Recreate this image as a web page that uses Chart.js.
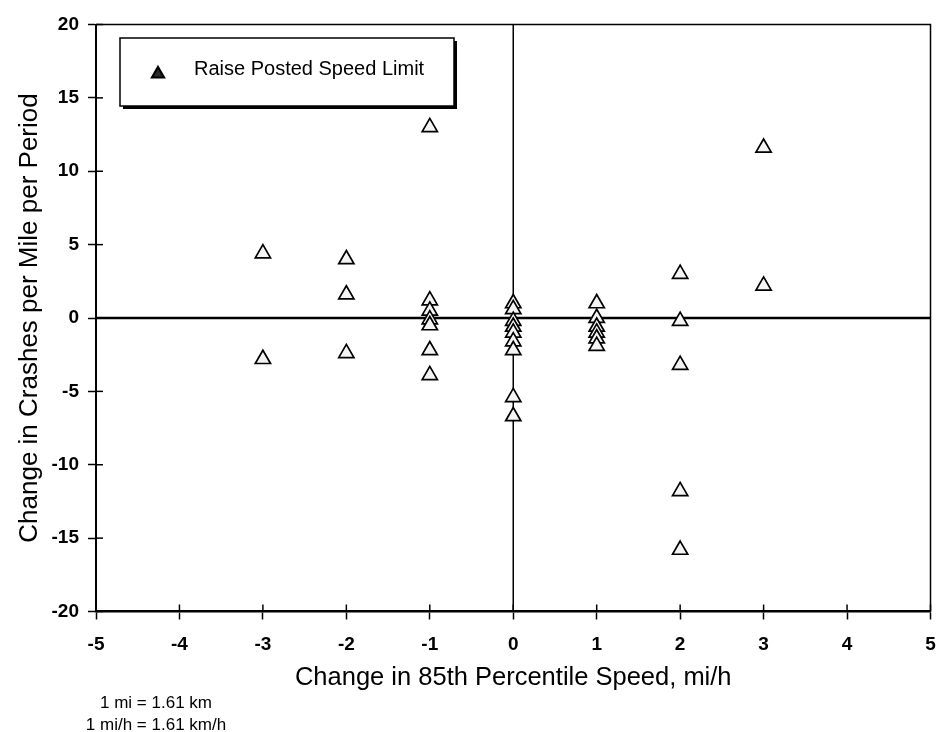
<!DOCTYPE html>
<html>
<head>
<meta charset="utf-8">
<script src="https://cdn.jsdelivr.net/npm/chart.js@4/dist/chart.umd.min.js"></script>
<style>
  html, body { margin: 0; padding: 0; background: #fff; }
  #wrap { width: 937px; height: 732px; }
</style>
</head>
<body>
<div id="wrap"><canvas id="c" width="937" height="732"></canvas></div>
<script>
// ---- Data ----
const seriesLabel = "Raise Posted Speed Limit";
const speedChange = [
  -3, -3,
  -2, -2, -2,
  -1, -1, -1, -1, -1, -1, -1,
   0,  0,  0,  0,  0,  0,  0,  0,  0,
   1,  1,  1,  1,  1,  1,
   2,  2,  2,  2,  2,
   3,  3
];
const crashChange = [
  4.4, -2.8,
  4.0, 1.6, -2.4,
  13.0, 1.2, 0.5, -0.1, -0.5, -2.2, -3.9,
  1.0, 0.6, -0.2, -0.6, -1.0, -1.6, -2.2, -5.4, -6.7,
  1.0, 0.0, -0.6, -1.0, -1.4, -1.9,
  3.0, -0.2, -3.2, -11.8, -15.8,
  11.6, 2.2
];
const xTitle = "Change in 85th Percentile Speed, mi/h";
const yTitle = "Change in Crashes per Mile per Period";
const notes = ["1 mi = 1.61 km", "1 mi/h = 1.61 km/h"];
const xRange = [-5, 5];
const yRange = [-20, 20];

const points = speedChange.map((x, i) => ({ x: x, y: crashChange[i] }));
const FONT = "'Liberation Sans', Arial, sans-serif";

const framePlugin = {
  id: 'frame',
  beforeDatasetsDraw(chart) {
    const { ctx, chartArea: a, scales: { x, y } } = chart;
    ctx.save();
    ctx.strokeStyle = '#000';
    ctx.lineWidth = 2.5;
    const y0 = y.getPixelForValue(0);
    ctx.beginPath(); ctx.moveTo(a.left, y0); ctx.lineTo(a.right, y0); ctx.stroke();
    ctx.lineWidth = 1.5;
    const x0 = x.getPixelForValue(0);
    ctx.beginPath(); ctx.moveTo(x0, a.top); ctx.lineTo(x0, a.bottom); ctx.stroke();
    ctx.lineWidth = 1.5;
    ctx.beginPath();
    ctx.moveTo(a.left, a.top); ctx.lineTo(a.right, a.top); ctx.lineTo(a.right, a.bottom);
    ctx.stroke();
    y.ticks.forEach(t => {
      const py = y.getPixelForValue(t.value);
      ctx.beginPath(); ctx.moveTo(a.left, py); ctx.lineTo(a.left + 7, py); ctx.stroke();
    });
    x.ticks.forEach(t => {
      const px = x.getPixelForValue(t.value);
      ctx.beginPath(); ctx.moveTo(px, a.bottom); ctx.lineTo(px, a.bottom - 7); ctx.stroke();
    });
    ctx.restore();
  },
  afterDraw(chart) {
    const { ctx } = chart;
    ctx.save();
    const bx = 120, by = 38, bw = 334, bh = 68;
    ctx.fillStyle = '#000';
    ctx.fillRect(bx + 3, by + bh, bw, 3);
    ctx.fillRect(bx + bw, by + 3, 3, bh);
    ctx.fillStyle = '#fff';
    ctx.fillRect(bx, by, bw, bh);
    ctx.strokeStyle = '#000';
    ctx.lineWidth = 1.5;
    ctx.strokeRect(bx, by, bw, bh);
    ctx.fillStyle = '#2a2a2a';
    ctx.beginPath();
    ctx.moveTo(158, 67); ctx.lineTo(164, 77.5); ctx.lineTo(152, 77.5); ctx.closePath();
    ctx.fill(); ctx.lineWidth = 2.2; ctx.stroke();
    ctx.fillStyle = '#000';
    ctx.font = '20px ' + FONT;
    ctx.textAlign = 'left';
    ctx.textBaseline = 'middle';
    ctx.fillText(chart.data.datasets[0].label, 194, 69);
    ctx.font = '17px ' + FONT;
    ctx.textAlign = 'center';
    ctx.fillText(notes[0], 156, 703);
    ctx.fillText(notes[1], 156, 725);
    ctx.restore();
  }
};

new Chart(document.getElementById('c'), {
  type: 'scatter',
  data: {
    datasets: [{
      label: seriesLabel,
      data: points,
      pointStyle: 'triangle',
      pointRadius: 8.8,
      pointHoverRadius: 8.8,
      backgroundColor: '#f4f4f4',
      borderColor: '#000',
      pointBorderWidth: 1.7
    }]
  },
  options: {
    responsive: false,
    animation: false,
    events: [],
    layout: { autoPadding: false, padding: { left: 0, right: 6.5, top: 24.5, bottom: 38.5 } },
    plugins: { legend: { display: false }, tooltip: { enabled: false } },
    scales: {
      x: {
        type: 'linear',
        min: xRange[0], max: xRange[1],
        afterFit(s) { s.height = 82; s.paddingLeft = 0; s.paddingRight = 0; },
        ticks: { stepSize: 1, color: '#000', padding: 14, font: { family: FONT, size: 19, weight: 'bold' } },
        grid: { drawOnChartArea: false, tickLength: 8, tickColor: '#000', tickWidth: 1.5 },
        border: { display: true, color: '#000', width: 2.5 },
        title: { display: true, text: xTitle, color: '#000', padding: { top: 0, bottom: 0 }, font: { family: FONT, size: 25.5 } }
      },
      y: {
        type: 'linear',
        min: yRange[0], max: yRange[1],
        afterFit(s) { s.width = 96; s.paddingTop = 0; s.paddingBottom = 0; },
        ticks: { stepSize: 5, color: '#000', padding: 9, font: { family: FONT, size: 19, weight: 'bold' } },
        grid: { drawOnChartArea: false, tickLength: 8, tickColor: '#000', tickWidth: 1.5 },
        border: { display: true, color: '#000', width: 2 },
        title: { display: true, text: yTitle, color: '#000', padding: { top: 14, bottom: 0 }, font: { family: FONT, size: 26 } }
      }
    }
  },
  plugins: [framePlugin]
});
</script>
</body>
</html>
